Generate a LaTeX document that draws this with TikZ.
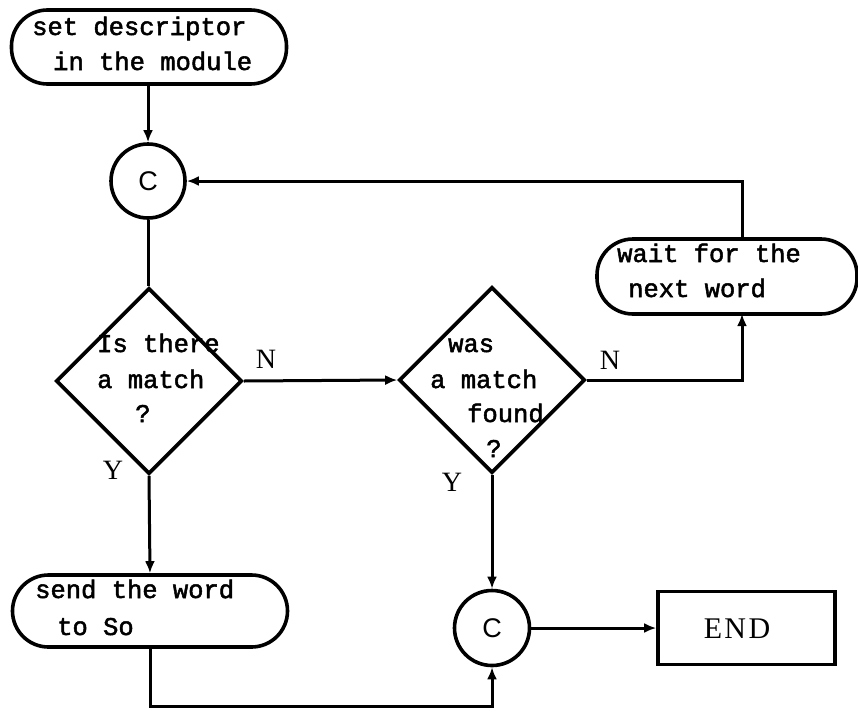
\documentclass[tikz,border=0pt]{standalone}
\usepackage{fontspec}
\usetikzlibrary{shapes.geometric,arrows.meta}
\newfontfamily\typefont[FakeBold=2]{Liberation Mono}
\newfontfamily\romfont{Liberation Serif}
\newfontfamily\endfont[LetterSpace=8]{Liberation Serif}
\newfontfamily\cfont{Liberation Sans}
\tikzset{
  shp/.style={draw, line width=3.6pt, inner sep=0pt},
  term/.style={shp, rectangle, rounded corners=36pt},
  endbox/.style={shp, rectangle},
  dec/.style={shp, diamond, minimum width=186pt, minimum height=186pt},
  conn/.style={shp, circle, minimum size=74pt, font=\cfont\fontsize{27}{27}\selectfont},
  txt/.style={anchor=base west, inner sep=0pt, font=\typefont\fontsize{25.5}{30}\selectfont},
  txtc/.style={anchor=base, inner sep=0pt, font=\typefont\fontsize{25.5}{30}\selectfont},
  lbl/.style={anchor=base, inner sep=0pt, font=\romfont\fontsize{28}{28}\selectfont},
  arr/.style={line width=3pt, -{Latex[length=12pt,width=10pt]}},
  ln/.style={line width=3pt}
}
\begin{document}
\begin{tikzpicture}[x=1pt,y=-1pt]
\useasboundingbox (0,0) rectangle (858,712);
% shapes
\node[term, minimum width=275pt, minimum height=74pt] (t1) at (149,47) {};
\node[conn] (c1) at (148,181) {C};
\node[dec] (d1) at (149,381) {};
\node[dec] (d2) at (492,380) {};
\node[term, minimum width=260pt, minimum height=75pt] (w) at (727,276.5) {};
\node[term, minimum width=275pt, minimum height=72pt] (s) at (150,611) {};
\node[conn, minimum size=75pt] (c2) at (492,628) {C};
\node[endbox, minimum width=177pt, minimum height=73pt] (e) at (746.5,628) {};
% texts
\node[txt] (t1a) at (32,35) {set descriptor};
\node[txt] (t1b) at (53,70) {in the module};
\node[txt] (wa) at (617,262) {wait for the};
\node[txt] (wb) at (628,297) {next word};
\node[txt] (sa) at (35,598) {send the word};
\node[txt] (sb) at (57,635) {to So};
\node[txt] (d1a) at (97,352) {Is there};
\node[txt] (d1b) at (97,388) {a match};
\node[txtc] (d1c) at (143,422) {?};
\node[txt] (d2a) at (448,352) {was};
\node[txt] (d2b) at (430,388) {a match};
\node[txt] (d2c) at (467,422) {found};
\node[txtc] (d2d) at (494,457) {?};
\node[lbl] (n1) at (266,368) {N};
\node[lbl] (y1) at (113,479) {Y};
\node[lbl] (n2) at (610,369) {N};
\node[lbl] (y2) at (452,491) {Y};
\node[lbl, font=\endfont\fontsize{30}{30}\selectfont] (et) at (737,638) {END};
% connectors
\coordinate (wtop) at (742,239);
\coordinate (wbot) at (742,314);
\coordinate (bot) at (150,706);
\draw[arr] (c1 |- t1.south) -- (c1.north);
\draw[arr] (wtop) |- (c1.east);
\draw[ln] (c1.south) -- (c1 |- d1.north);
\draw[arr] (d1.east) -- (d2.west);
\draw[arr] (d2.east) -| (wbot);
\draw[arr] (d1.south) -- (s.north);
\draw[arr] (d2.south) -- (c2.north);
\draw[arr] (s.south) -- (bot) -| (c2.south);
\draw[arr] (c2.east) -- (e.west);
\end{tikzpicture}
\end{document}
